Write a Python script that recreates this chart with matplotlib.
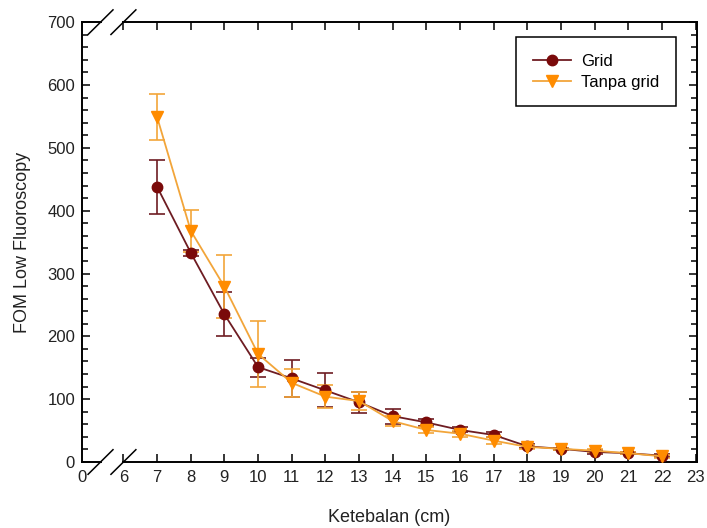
import matplotlib
matplotlib.use("Agg")
import matplotlib.pyplot as plt
from matplotlib.ticker import MultipleLocator

plt.rcParams['font.family'] = ['Liberation Sans', 'DejaVu Sans']

# data
thickness = [7, 8, 9, 10, 11, 12, 13, 14, 15, 16, 17, 18, 19, 20, 21, 22]
fom_grid = [438, 333, 235, 151, 133, 114, 95, 73, 63, 51, 43, 25, 21, 16, 14, 10]
err_grid = [43, 5, 35, 15, 30, 27, 17, 12, 5, 4, 4, 3, 2, 3, 2, 2]
fom_nogrid = [549, 368, 279, 172, 126, 104, 97, 65, 51, 45, 34, 24, 21, 18, 14, 9]
err_nogrid = [37, 33, 50, 53, 22, 18, 15, 8, 5, 5, 5, 3, 2, 2, 2, 2]

xticks = [6, 7, 8, 9, 10, 11, 12, 13, 14, 15, 16, 17, 18, 19, 20, 21, 22, 23]
yticks = [0, 100, 200, 300, 400, 500, 600, 700]

c_grid = '#7a0a0a'
c_grid_line = '#6e1c22'
c_nogrid = '#ff8c00'
c_nogrid_line = '#f2a53a'

fig = plt.figure(figsize=(7.07, 5.28), dpi=100)
ax = fig.add_axes([0.116, 0.125, 0.870, 0.833])

x0 = 4.77
ax.set_xlim(x0, 23.04)
ax.set_ylim(0, 700)

# error bars first, then lines+markers so the legend shows no bars
ax.errorbar(thickness, fom_grid, yerr=err_grid, fmt='none', ecolor=c_grid_line,
            capsize=6, elinewidth=1.2, capthick=1.2, zorder=2)
ax.errorbar(thickness, fom_nogrid, yerr=err_nogrid, fmt='none', ecolor=c_nogrid_line,
            capsize=6, elinewidth=1.2, capthick=1.2, zorder=2)
ax.plot(thickness, fom_grid, color=c_grid_line, lw=1.3, marker='o', markersize=7.5,
        markerfacecolor=c_grid, markeredgecolor=c_grid, label='Grid', zorder=3)
ax.plot(thickness, fom_nogrid, color=c_nogrid_line, lw=1.3, marker='v', markersize=8.5,
        markerfacecolor=c_nogrid, markeredgecolor=c_nogrid, label='Tanpa grid', zorder=4)

# axis break between 0 and 6
ax.set_xticks([x0] + xticks)
ax.set_xticklabels(['0'] + [str(t) for t in xticks])
ax.set_yticks(yticks)
ax.yaxis.set_minor_locator(MultipleLocator(20))
ax.tick_params(axis='both', which='both', direction='in', top=True, right=True,
               labelsize=12, labelcolor='#222222')
ax.tick_params(which='major', length=6, width=1.1)
ax.tick_params(which='minor', length=4, width=1.1)
ax.tick_params(axis='x', pad=6)
ax.tick_params(axis='y', pad=5)
# hide the fake tick mark at the left edge
ax.xaxis.get_major_ticks()[0].tick1line.set_visible(False)
ax.xaxis.get_major_ticks()[0].tick2line.set_visible(False)

for s in ax.spines.values():
    s.set_linewidth(1.4)
ax.spines['bottom'].set_bounds(6, 23.04)
ax.spines['top'].set_bounds(6, 23.04)

trans = ax.get_xaxis_transform()
brk = 5.32
for yy in (0, 1):
    ax.plot([x0, brk], [yy, yy], color='black', lw=1.4, transform=trans, clip_on=False)
    for xc in (brk, 6.0):
        ax.plot([xc - 0.37, xc + 0.37], [yy - 0.028, yy + 0.028], color='black',
                lw=1.1, transform=trans, clip_on=False)

ax.set_xlabel('Ketebalan (cm)', fontsize=13, labelpad=17, color='#222222')
ax.set_ylabel('FOM Low Fluoroscopy', fontsize=13, labelpad=12, color='#222222')

leg = ax.legend(loc='upper right', bbox_to_anchor=(0.966, 0.966), borderaxespad=0,
                fontsize=12, fancybox=False, edgecolor='black', framealpha=1,
                handlelength=2.3, handletextpad=0.6, borderpad=1.0, labelspacing=0.35)
leg.get_frame().set_linewidth(1.1)

fig.savefig('out.png', dpi=100)
